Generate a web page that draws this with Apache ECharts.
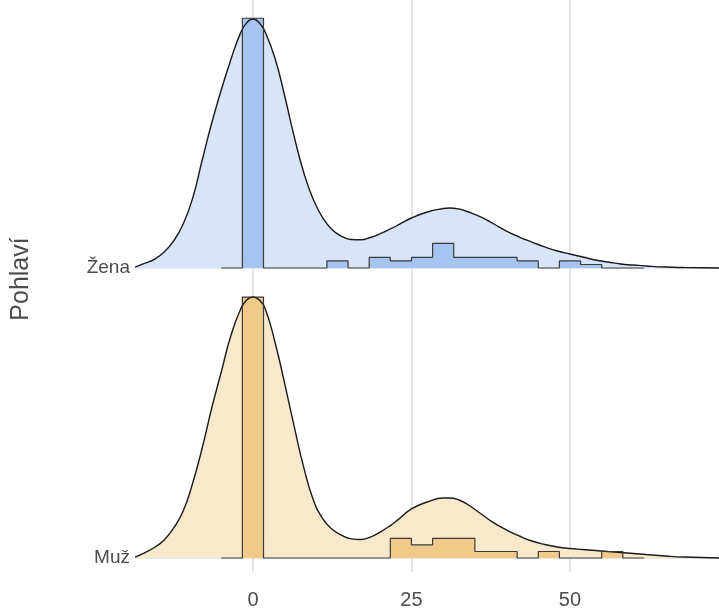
<!DOCTYPE html>
<html lang="cs">
<head>
<meta charset="UTF-8">
<title>Pohlaví</title>
<style>
    * { margin: 0; padding: 0; }
    html, body { width: 100%; height: 100%; background: #fff; }
    #main { width: 719px; height: 613px; }
</style>
<script src="https://cdn.jsdelivr.net/npm/echarts@6/dist/echarts.min.js"></script>
</head>
<body>
<div id="main"></div>
<script>
    // skupiny odspodu nahoru
    var groups = ['Muž', 'Žena'];
    var xTicks = [0, 25, 50];

    // odhad hustoty (x, hustota)
    var densX = [-18.6, -17, -15.5, -14, -12.5, -11, -9.5, -8, -6.5, -5, -3.5, -2, -1, 0, 1, 2, 3.5, 5, 6.5, 8, 9.5, 11, 12.5, 14, 15.5, 17, 18.5, 20, 21.5, 23, 25, 27.5, 30, 31, 32.5, 34, 36, 38, 40, 42, 44, 46, 48, 50, 52, 54, 56, 58, 60, 62, 65, 68, 73.5];
    var zenaDens = [0.0008, 0.0040, 0.0075, 0.0134, 0.0226, 0.0368, 0.0585, 0.0903, 0.1212, 0.1488, 0.1740, 0.1960, 0.2050, 0.2082, 0.2050, 0.1965, 0.1750, 0.1440, 0.1100, 0.0800, 0.0575, 0.0420, 0.0320, 0.0265, 0.0238, 0.0236, 0.0255, 0.0285, 0.0322, 0.0362, 0.0418, 0.0468, 0.0497, 0.0502, 0.0493, 0.0468, 0.0426, 0.0368, 0.0309, 0.0259, 0.0217, 0.0176, 0.0142, 0.0117, 0.0092, 0.0067, 0.0050, 0.0033, 0.0025, 0.0017, 0.0008, 0.0004, 0];
    var muzDens = [0.0008, 0.0045, 0.0090, 0.0151, 0.0251, 0.0393, 0.0627, 0.0920, 0.1254, 0.1555, 0.1856, 0.2074, 0.2157, 0.2182, 0.2157, 0.2074, 0.1800, 0.1460, 0.1100, 0.0760, 0.0490, 0.0330, 0.0240, 0.0190, 0.0160, 0.0155, 0.0175, 0.0215, 0.0265, 0.0325, 0.0410, 0.0468, 0.0502, 0.0502, 0.0485, 0.0443, 0.0368, 0.0293, 0.0234, 0.0184, 0.0142, 0.0113, 0.0092, 0.0079, 0.0071, 0.0063, 0.0054, 0.0046, 0.0038, 0.0029, 0.0017, 0.0008, 0];

    // histogram (středy binů, četnosti)
    var binWidth = 3.3333;
    var binCenters = [-3.333, 0, 3.333, 6.667, 10, 13.333, 16.667, 20, 23.333, 26.667, 30, 33.333, 36.667, 40, 43.333, 46.667, 50, 53.333, 56.667, 60];
    var zenaCounts = [0, 71, 0, 0, 0, 2, 0, 3, 2, 3, 7, 3, 3, 3, 2, 0, 2, 1, 0, 0];
    var muzCounts = [0, 40, 0, 0, 0, 0, 0, 0, 3, 2, 3, 3, 1, 1, 0, 1, 0, 0, 1, 0];

    // rozestup hřebenů v jednotkách hustoty
    var ridgeGap = 0.2425;

    function densSeries(dens, off, fill) {
        return {
            type: 'line',
            data: densX.map(function (x, i) { return [x, dens[i] + off]; }),
            smooth: 0.5,
            showSymbol: false,
            silent: true,
            clip: false,
            lineStyle: { color: '#1a1a1a', width: 1.4 },
            areaStyle: { color: fill, opacity: 1, origin: off }
        };
    }

    function histSeries(counts, off, fill) {
        var n = counts.reduce(function (a, b) { return a + b; }, 0);
        var pts = [[binCenters[0] - binWidth / 2, off]];
        binCenters.forEach(function (c, i) {
            var h = counts[i] / (n * binWidth) + off;
            pts.push([c - binWidth / 2, h]);
            pts.push([c + binWidth / 2, h]);
        });
        pts.push([binCenters[binCenters.length - 1] + binWidth / 2, off]);
        return {
            type: 'line',
            data: pts,
            showSymbol: false,
            silent: true,
            clip: false,
            lineStyle: { color: '#3a3a3a', width: 1.2 },
            areaStyle: { color: fill, opacity: 1, origin: off }
        };
    }

    var myChart = echarts.init(document.getElementById('main'));
    myChart.setOption({
        animation: false,
        textStyle: { fontFamily: 'Liberation Sans' },
        grid: { left: 135, right: 0, top: 0, bottom: 55, outerBoundsMode: 'none' },
        xAxis: {
            type: 'value',
            min: -18.6,
            max: 73.5,
            axisLine: { show: false },
            axisTick: { show: true, customValues: xTicks, length: 14, lineStyle: { color: '#dadada', width: 1.5 } },
            axisLabel: { customValues: xTicks, color: '#4d4d4d', fontSize: 20, margin: 32 },
            splitLine: { show: true, lineStyle: { color: '#dadada', width: 1.5 } }
        },
        yAxis: {
            type: 'value',
            min: 0,
            max: 0.4666,
            interval: ridgeGap,
            name: 'Pohlaví',
            nameLocation: 'middle',
            nameRotate: 90,
            nameGap: 101,
            nameTextStyle: { color: '#4d4d4d', fontSize: 25 },
            axisLine: { show: false },
            axisTick: { show: false },
            axisLabel: {
                color: '#4d4d4d',
                fontSize: 19,
                margin: 5,
                formatter: function (v) { return groups[Math.round(v / ridgeGap)] || ''; }
            },
            splitLine: { show: true, lineStyle: { color: ['#e2e2e2', '#e2e2e2', 'rgba(0,0,0,0)'], width: 1.5 } }
        },
        series: [
            densSeries(zenaDens, ridgeGap, '#d8e4f7'),
            histSeries(zenaCounts, ridgeGap, '#a6c4f0'),
            densSeries(muzDens, 0, '#f8e9cd'),
            histSeries(muzCounts, 0, '#efca88')
        ]
    });
</script>
</body>
</html>
